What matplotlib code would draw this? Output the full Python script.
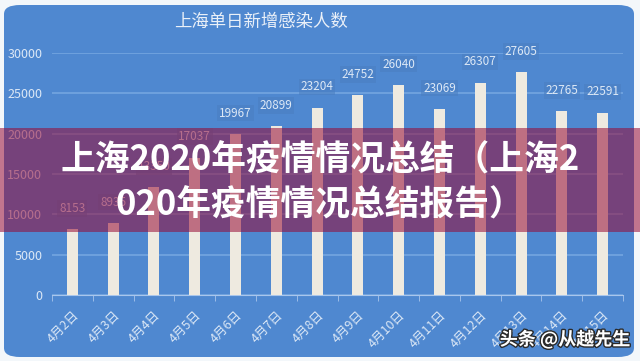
import matplotlib
matplotlib.use("Agg")
import matplotlib.pyplot as plt
import matplotlib.patheffects as pe
from matplotlib.patches import FancyBboxPatch, Rectangle
import numpy as np

plt.rcParams['font.family'] = ['Noto Sans CJK SC', 'DejaVu Sans']

# data
days = ["4月2日", "4月3日", "4月4日", "4月5日", "4月6日", "4月7日", "4月8日",
        "4月9日", "4月10日", "4月11日", "4月12日", "4月13日", "4月14日", "4月15日"]
cases = [8153, 8935, 13350, 17037, 19967, 20899, 23204,
         24752, 26040, 23069, 26307, 27605, 22765, 22591]
yticks = [0, 5000, 10000, 15000, 20000, 25000, 30000]

title = "上海单日新增感染人数"
banner_lines = ["上海2020年疫情情况总结（上海2", "020年疫情情况总结报告）"]
watermark = "头条 @从越先生"

blue = "#4F88D0"
light = "#DCE8F6"

fig = plt.figure(figsize=(6.4, 3.61), dpi=100)
fig.patch.set_facecolor("#F3F7FA")

# rounded blue card behind the chart
card = FancyBboxPatch((4 / 640, 4 / 361), 630 / 640, 352 / 361,
                      boxstyle="round,pad=0,rounding_size=0.025",
                      transform=fig.transFigure, facecolor=blue,
                      edgecolor="none", zorder=-5)
fig.patches.append(card)

ax = fig.add_axes([52 / 640, 1 - 295 / 361, 571 / 640, 242 / 361])
ax.set_facecolor("none")
ax.set_zorder(1)

x = np.arange(len(days))
ax.bar(x, cases, width=0.27, color="#EEEAE0", zorder=3)

for xi, v in zip(x, cases):
    ax.annotate(str(v), (xi, v), xytext=(0, 15), textcoords="offset points",
                ha="center", va="center", fontsize=8.5, color=light,
                bbox=dict(boxstyle="square,pad=0.15", fc="#4A7FC2",
                          ec="none", alpha=0.6), zorder=4)

ax.set_xlim(-0.5, len(days) - 0.5)
ax.set_ylim(0, 30000)
ax.set_yticks(yticks)
ax.set_yticklabels([str(t) for t in yticks], color=light, fontsize=9)
ax.yaxis.grid(True, color="#74A5E0", linewidth=1.2)
ax.set_axisbelow(True)
ax.tick_params(axis="y", length=0, pad=7)

ax.set_xticks(x)
ax.set_xticklabels(days, rotation=45, ha="right", rotation_mode="anchor",
                   color=light, fontsize=9)
ax.set_xticks(np.arange(-0.5, len(days)), minor=True)
ax.tick_params(axis="x", which="major", length=0, pad=10)
ax.tick_params(axis="x", which="minor", length=4, color="#A9C6EC")

for s in ["top", "right", "left"]:
    ax.spines[s].set_visible(False)
ax.spines["bottom"].set_color("#A9C6EC")

fig.text(261 / 640, 1 - 22 / 361, title, ha="center", va="center",
         fontsize=12.5, color="#EAF0F8")

# dark red banner over the middle
banner = Rectangle((0, 1 - 232 / 361), 1, 104 / 361, transform=fig.transFigure,
                   facecolor="#980A36", alpha=0.55, edgecolor="none", zorder=10)
fig.patches.append(banner)
fig.text(0.5, 1 - 160 / 361, banner_lines[0], ha="center", va="center",
         fontsize=25, fontweight="bold", color="white", zorder=11)
fig.text(0.5, 1 - 205 / 361, banner_lines[1], ha="center", va="center",
         fontsize=25, fontweight="bold", color="white", zorder=11)

fig.text(1 - 10 / 640, 1 - 340 / 361, watermark, ha="right", va="center",
         fontsize=13, fontweight="bold", color="white", zorder=11,
         path_effects=[pe.withStroke(linewidth=2, foreground="#2A2A2A")])

fig.savefig("out.png", dpi=100, facecolor=fig.get_facecolor())
